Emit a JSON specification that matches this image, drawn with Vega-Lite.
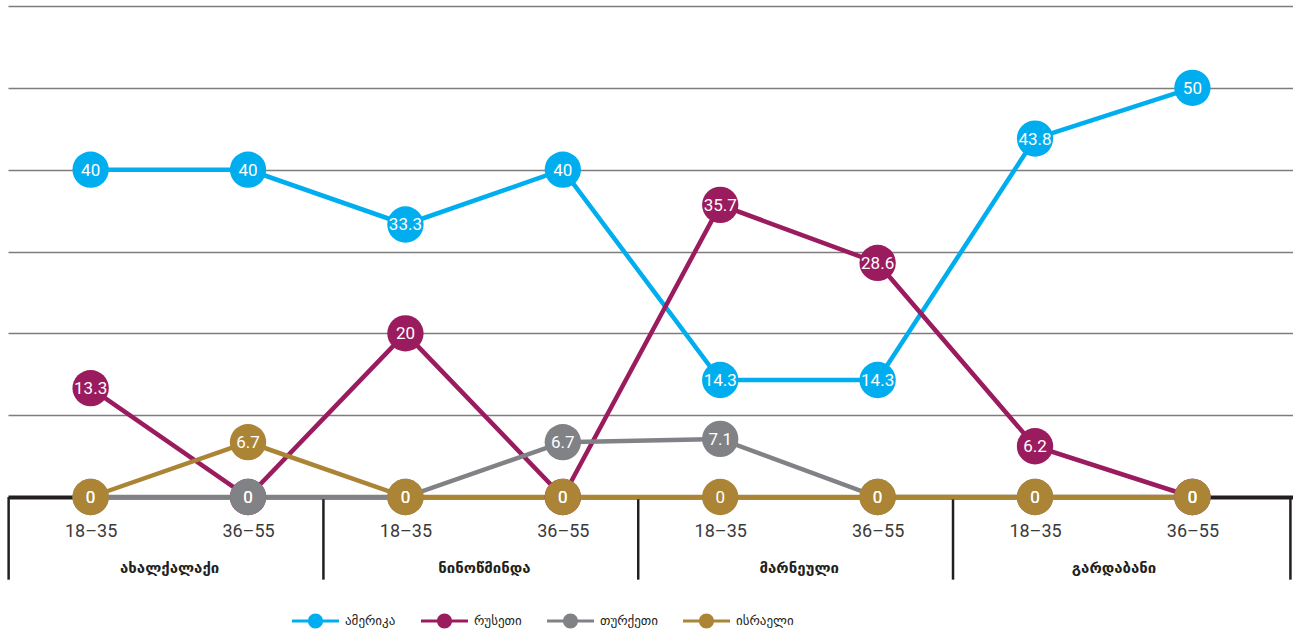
{
  "$schema": "https://vega.github.io/schema/vega-lite/v6.json",
  "width": 1285,
  "height": 491,
  "autosize": {"type": "none"},
  "padding": {"left": 8, "top": 6, "right": 0, "bottom": 133},
  "background": "white",
  "config": {"view": {"stroke": null}, "font": "Roboto"},
  "datasets": {
    "points": [
      {"region": "ახალქალაქი", "slot": "ახალქალაქი 18–35", "country": "ამერიკა", "value": 40},
      {"region": "ახალქალაქი", "slot": "ახალქალაქი 36–55", "country": "ამერიკა", "value": 40},
      {"region": "ნინოწმინდა", "slot": "ნინოწმინდა 18–35", "country": "ამერიკა", "value": 33.3},
      {"region": "ნინოწმინდა", "slot": "ნინოწმინდა 36–55", "country": "ამერიკა", "value": 40},
      {"region": "მარნეული", "slot": "მარნეული 18–35", "country": "ამერიკა", "value": 14.3},
      {"region": "მარნეული", "slot": "მარნეული 36–55", "country": "ამერიკა", "value": 14.3},
      {"region": "გარდაბანი", "slot": "გარდაბანი 18–35", "country": "ამერიკა", "value": 43.8},
      {"region": "გარდაბანი", "slot": "გარდაბანი 36–55", "country": "ამერიკა", "value": 50},
      {"region": "ახალქალაქი", "slot": "ახალქალაქი 18–35", "country": "რუსეთი", "value": 13.3},
      {"region": "ახალქალაქი", "slot": "ახალქალაქი 36–55", "country": "რუსეთი", "value": 0},
      {"region": "ნინოწმინდა", "slot": "ნინოწმინდა 18–35", "country": "რუსეთი", "value": 20},
      {"region": "ნინოწმინდა", "slot": "ნინოწმინდა 36–55", "country": "რუსეთი", "value": 0},
      {"region": "მარნეული", "slot": "მარნეული 18–35", "country": "რუსეთი", "value": 35.7},
      {"region": "მარნეული", "slot": "მარნეული 36–55", "country": "რუსეთი", "value": 28.6},
      {"region": "გარდაბანი", "slot": "გარდაბანი 18–35", "country": "რუსეთი", "value": 6.2},
      {"region": "გარდაბანი", "slot": "გარდაბანი 36–55", "country": "რუსეთი", "value": 0},
      {"region": "ახალქალაქი", "slot": "ახალქალაქი 18–35", "country": "თურქეთი", "value": 0},
      {"region": "ახალქალაქი", "slot": "ახალქალაქი 36–55", "country": "თურქეთი", "value": 0},
      {"region": "ნინოწმინდა", "slot": "ნინოწმინდა 18–35", "country": "თურქეთი", "value": 0},
      {"region": "ნინოწმინდა", "slot": "ნინოწმინდა 36–55", "country": "თურქეთი", "value": 6.7},
      {"region": "მარნეული", "slot": "მარნეული 18–35", "country": "თურქეთი", "value": 7.1},
      {"region": "მარნეული", "slot": "მარნეული 36–55", "country": "თურქეთი", "value": 0},
      {"region": "გარდაბანი", "slot": "გარდაბანი 18–35", "country": "თურქეთი", "value": 0},
      {"region": "გარდაბანი", "slot": "გარდაბანი 36–55", "country": "თურქეთი", "value": 0},
      {"region": "ახალქალაქი", "slot": "ახალქალაქი 18–35", "country": "ისრაელი", "value": 0},
      {"region": "ახალქალაქი", "slot": "ახალქალაქი 36–55", "country": "ისრაელი", "value": 6.7},
      {"region": "ნინოწმინდა", "slot": "ნინოწმინდა 18–35", "country": "ისრაელი", "value": 0},
      {"region": "ნინოწმინდა", "slot": "ნინოწმინდა 36–55", "country": "ისრაელი", "value": 0},
      {"region": "მარნეული", "slot": "მარნეული 18–35", "country": "ისრაელი", "value": 0},
      {"region": "მარნეული", "slot": "მარნეული 36–55", "country": "ისრაელი", "value": 0},
      {"region": "გარდაბანი", "slot": "გარდაბანი 18–35", "country": "ისრაელი", "value": 0},
      {"region": "გარდაბანი", "slot": "გარდაბანი 36–55", "country": "ისრაელი", "value": 0}
    ],
    "regions": [
      {"region": "ახალქალაქი", "slot": "ახალქალაქი 18–35"},
      {"region": "ნინოწმინდა", "slot": "ნინოწმინდა 18–35"},
      {"region": "მარნეული", "slot": "მარნეული 18–35"},
      {"region": "გარდაბანი", "slot": "გარდაბანი 18–35"}
    ],
    "end": [
      {"region": "გარდაბანი", "slot": "გარდაბანი 36–55"}
    ]
  },
  "encoding": {
    "x": {
      "field": "slot",
      "type": "ordinal",
      "sort": null,
      "scale": {"type": "point", "padding": 0.582, "align": 0.451,
        "domain": ["ახალქალაქი 18–35", "ახალქალაქი 36–55", "ნინოწმინდა 18–35", "ნინოწმინდა 36–55", "მარნეული 18–35", "მარნეული 36–55", "გარდაბანი 18–35", "გარდაბანი 36–55"]},
      "axis": {
        "title": null,
        "labelExpr": "slice(datum.label, -5)",
        "labelAngle": 0,
        "labelFontSize": 18,
        "labelFont": "Roboto",
        "labelColor": "#3a3a3a",
        "labelPadding": 25,
        "ticks": false,
        "domain": true,
        "domainColor": "#231F20",
        "domainWidth": 4,
        "grid": false
      }
    }
  },
  "layer": [
    {
      "data": {"name": "regions"},
      "mark": {"type": "rule", "xOffset": -82, "strokeWidth": 2.5, "color": "#231F20"},
      "encoding": {
        "y": {"datum": 0, "type": "quantitative", "scale": {"domain": [0, 60], "nice": false}},
        "y2": {"datum": -10.1}
      }
    },
    {
      "data": {"name": "end"},
      "mark": {"type": "rule", "xOffset": 98, "strokeWidth": 2.5, "color": "#231F20"},
      "encoding": {
        "y": {"datum": 0, "type": "quantitative"},
        "y2": {"datum": -10.1}
      }
    },
    {
      "data": {"name": "regions"},
      "mark": {"type": "text", "dx": 79, "fontSize": 15, "fontWeight": "bold", "color": "#231F20", "font": "DejaVu Sans"},
      "encoding": {
        "y": {"datum": -8.7, "type": "quantitative"},
        "text": {"field": "region", "type": "nominal"}
      }
    },
    {
      "data": {"name": "points"},
      "mark": {"type": "line", "strokeWidth": 4.5},
      "encoding": {
        "y": {
          "field": "value",
          "type": "quantitative",
          "axis": {
            "title": null,
            "values": [0, 10, 20, 30, 40, 50, 60],
            "labels": false,
            "ticks": false,
            "domain": false,
            "grid": true,
            "gridColor": "#7d7d7d",
            "gridWidth": 1.3
          }
        },
        "color": {
          "field": "country",
          "type": "nominal",
          "sort": null,
          "scale": {"domain": ["ამერიკა", "რუსეთი", "თურქეთი", "ისრაელი"], "range": ["#00AEEF", "#9A1C5E", "#818285", "#AB8535"]},
          "legend": {
            "title": null,
            "orient": "none",
            "direction": "horizontal",
            "legendX": 284,
            "legendY": 591,
            "symbolType": "M -1 -0.065 L 1 -0.065 L 1 0.065 L -1 0.065 Z M 0.32 0 A 0.32 0.32 0 1 1 -0.32 0 A 0.32 0.32 0 1 1 0.32 0 Z",
            "symbolSize": 2209,
            "symbolStrokeWidth": 0,
            "symbolOpacity": 1,
            "labelFontSize": 13,
            "labelFont": "DejaVu Sans",
            "labelColor": "#231F20",
            "labelOffset": 6,
            "columnPadding": 25
          }
        },
        "detail": {"field": "country"}
      }
    },
    {
      "data": {"name": "points"},
      "mark": {"type": "circle", "size": 1320, "opacity": 1},
      "encoding": {
        "y": {"field": "value", "type": "quantitative"},
        "color": {"field": "country", "type": "nominal", "sort": null}
      }
    },
    {
      "data": {"name": "points"},
      "mark": {"type": "text", "color": "white", "fontSize": 17, "font": "Roboto", "baseline": "middle", "align": "center", "dy": 1},
      "encoding": {
        "y": {"field": "value", "type": "quantitative"},
        "text": {"field": "value", "type": "nominal"}
      }
    }
  ]
}
